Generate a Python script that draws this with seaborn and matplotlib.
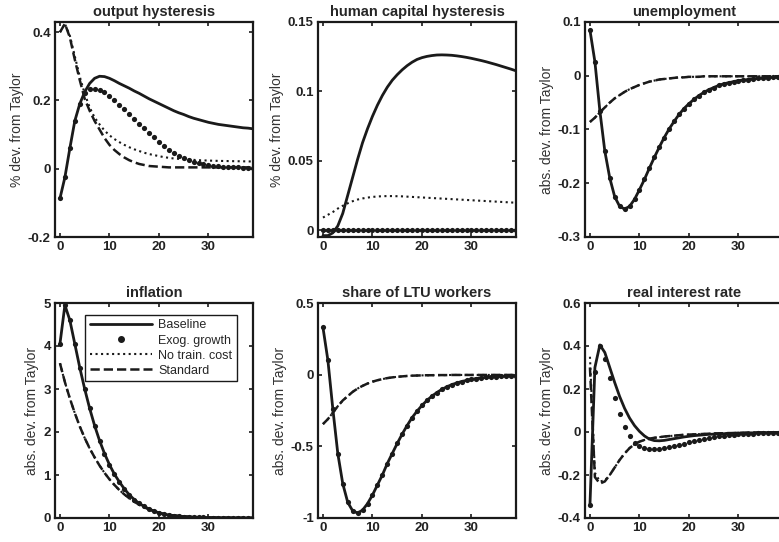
import numpy as np
import matplotlib
matplotlib.use("Agg")
import matplotlib.pyplot as plt
from matplotlib.lines import Line2D
from matplotlib.ticker import FuncFormatter
import seaborn as sns

# === data (periods 0..39) ===
t = np.arange(40)

# output hysteresis
base_out = [-0.087, -0.025, 0.06, 0.14, 0.19, 0.225, 0.25, 0.265, 0.271, 0.27,
            0.265, 0.258, 0.25, 0.243, 0.236, 0.228, 0.221, 0.213, 0.205, 0.198,
            0.191, 0.184, 0.177, 0.170, 0.164, 0.159, 0.153, 0.148, 0.144, 0.140,
            0.136, 0.133, 0.130, 0.128, 0.126, 0.124, 0.122, 0.120, 0.119, 0.117]
exog_out = [-0.087, -0.025, 0.06, 0.14, 0.19, 0.222, 0.233, 0.235, 0.232, 0.224,
            0.213, 0.2, 0.188, 0.174, 0.16, 0.145, 0.13, 0.118, 0.105, 0.092,
            0.079, 0.067, 0.056, 0.046, 0.038, 0.031, 0.025, 0.02, 0.016, 0.013,
            0.01, 0.008, 0.007, 0.006, 0.005, 0.004, 0.004, 0.003, 0.003, 0.003]
nt_out = [0.40, 0.425, 0.39, 0.33, 0.27, 0.22, 0.18, 0.15, 0.13, 0.112,
          0.098, 0.087, 0.078, 0.07, 0.063, 0.057, 0.052, 0.047, 0.043, 0.04,
          0.037, 0.034, 0.032, 0.030, 0.029, 0.028, 0.027, 0.026, 0.025, 0.0245,
          0.024, 0.0235, 0.023, 0.0228, 0.0225, 0.0222, 0.022, 0.0218, 0.0215, 0.0212]
st_out = [0.40, 0.425, 0.385, 0.32, 0.26, 0.205, 0.17, 0.14, 0.115, 0.09,
          0.07, 0.055, 0.043, 0.033, 0.025, 0.019, 0.014, 0.011, 0.008, 0.007,
          0.006, 0.005, 0.004, 0.004, 0.004, 0.004, 0.004, 0.004, 0.004, 0.004,
          0.004, 0.004, 0.004, 0.004, 0.004, 0.004, 0.004, 0.004, 0.004, 0.004]

# human capital hysteresis
base_hc = [-0.004, -0.004, -0.002, 0.003, 0.012, 0.025, 0.038, 0.051, 0.063, 0.073,
           0.082, 0.09, 0.097, 0.103, 0.108, 0.112, 0.1155, 0.1185, 0.121, 0.123,
           0.1243, 0.1252, 0.1258, 0.1262, 0.1263, 0.1262, 0.126, 0.1256, 0.1251, 0.1245,
           0.1238, 0.123, 0.1222, 0.1213, 0.1203, 0.1193, 0.1182, 0.1171, 0.116, 0.1148]
exog_hc = [0.0] * 40
nt_hc = [0.009, 0.011, 0.013, 0.0155, 0.0175, 0.0193, 0.0208, 0.022, 0.0228, 0.0234,
         0.0239, 0.0242, 0.0244, 0.0245, 0.0245, 0.0244, 0.0243, 0.0241, 0.0239, 0.0237,
         0.0235, 0.0233, 0.0231, 0.0229, 0.0227, 0.0225, 0.0223, 0.0221, 0.0219, 0.0217,
         0.0215, 0.0213, 0.0211, 0.0209, 0.0207, 0.0205, 0.0203, 0.0201, 0.0199, 0.0197]
st_hc = [0.0] * 40

# unemployment
base_un = [0.085, 0.026, -0.065, -0.14, -0.19, -0.225, -0.243, -0.248, -0.243, -0.23,
           -0.212, -0.193, -0.172, -0.152, -0.133, -0.115, -0.099, -0.085, -0.072, -0.061,
           -0.052, -0.044, -0.037, -0.031, -0.026, -0.022, -0.018, -0.015, -0.013, -0.011,
           -0.009, -0.008, -0.007, -0.006, -0.005, -0.004, -0.004, -0.003, -0.003, -0.003]
exog_un = base_un
nt_un = [-0.086, -0.078, -0.068, -0.059, -0.05, -0.042, -0.036, -0.030, -0.025, -0.021,
         -0.017, -0.014, -0.011, -0.009, -0.007, -0.006, -0.005, -0.004, -0.003, -0.003,
         -0.002, -0.002, -0.002, -0.001, -0.001, -0.001, -0.001, -0.001, -0.001, -0.001,
         -0.001, -0.001, -0.001, -0.001, -0.001, -0.001, -0.001, -0.001, -0.001, -0.001]
st_un = nt_un

# inflation
base_inf = [4.05, 4.95, 4.6, 4.05, 3.5, 3.0, 2.55, 2.15, 1.8, 1.5,
            1.24, 1.02, 0.84, 0.68, 0.54, 0.43, 0.34, 0.27, 0.21, 0.16,
            0.12, 0.09, 0.07, 0.055, 0.043, 0.034, 0.027, 0.021, 0.017, 0.014,
            0.011, 0.009, 0.008, 0.006, 0.005, 0.004, 0.004, 0.003, 0.003, 0.002]
exog_inf = base_inf
nt_inf = [3.6, 3.16, 2.78, 2.44, 2.13, 1.86, 1.62, 1.41, 1.22, 1.05,
          0.9, 0.77, 0.65, 0.55, 0.46, 0.38, 0.31, 0.25, 0.2, 0.16,
          0.12, 0.095, 0.075, 0.058, 0.045, 0.035, 0.027, 0.021, 0.016, 0.012,
          0.01, 0.008, 0.006, 0.005, 0.004, 0.003, 0.003, 0.002, 0.002, 0.002]
st_inf = nt_inf

# share of LTU workers
base_ltu = [0.33, 0.1, -0.24, -0.55, -0.76, -0.89, -0.95, -0.965, -0.945, -0.9,
            -0.84, -0.77, -0.7, -0.62, -0.55, -0.48, -0.415, -0.355, -0.3, -0.255,
            -0.215, -0.18, -0.15, -0.125, -0.103, -0.085, -0.07, -0.058, -0.048, -0.04,
            -0.033, -0.027, -0.022, -0.019, -0.016, -0.013, -0.011, -0.01, -0.009, -0.008]
exog_ltu = base_ltu
nt_ltu = [-0.345, -0.31, -0.265, -0.22, -0.18, -0.15, -0.12, -0.097, -0.078, -0.062,
          -0.049, -0.039, -0.031, -0.024, -0.019, -0.015, -0.012, -0.009, -0.007, -0.006,
          -0.005, -0.004, -0.004, -0.003, -0.003, -0.003, -0.002, -0.002, -0.002, -0.002,
          -0.002, -0.002, -0.002, -0.002, -0.002, -0.002, -0.002, -0.002, -0.002, -0.002]
st_ltu = nt_ltu

# real interest rate
base_rr = [-0.34, 0.3, 0.405, 0.37, 0.3, 0.23, 0.165, 0.11, 0.065, 0.03,
           0.003, -0.018, -0.033, -0.04, -0.041, -0.039, -0.035, -0.031, -0.027, -0.023,
           -0.02, -0.017, -0.015, -0.013, -0.011, -0.01, -0.009, -0.008, -0.007, -0.006,
           -0.005, -0.005, -0.004, -0.004, -0.003, -0.003, -0.003, -0.002, -0.002, -0.002]
exog_rr = [-0.34, 0.28, 0.4, 0.34, 0.25, 0.16, 0.085, 0.025, -0.02, -0.05,
           -0.066, -0.075, -0.079, -0.08, -0.078, -0.075, -0.071, -0.066, -0.06, -0.054,
           -0.048, -0.042, -0.037, -0.032, -0.027, -0.023, -0.02, -0.017, -0.014, -0.012,
           -0.01, -0.009, -0.008, -0.007, -0.006, -0.005, -0.004, -0.004, -0.003, -0.003]
nt_rr = [0.35, -0.19, -0.23, -0.225, -0.2, -0.165, -0.13, -0.1, -0.075, -0.057,
         -0.045, -0.037, -0.031, -0.027, -0.024, -0.021, -0.019, -0.017, -0.015, -0.013,
         -0.012, -0.011, -0.01, -0.009, -0.008, -0.007, -0.006, -0.006, -0.005, -0.005,
         -0.004, -0.004, -0.003, -0.003, -0.003, -0.002, -0.002, -0.002, -0.002, -0.001]
st_rr = [0.3, -0.21, -0.24, -0.23, -0.2, -0.165, -0.13, -0.1, -0.075, -0.057,
         -0.045, -0.037, -0.031, -0.027, -0.024, -0.021, -0.019, -0.017, -0.015, -0.013,
         -0.012, -0.011, -0.01, -0.009, -0.008, -0.007, -0.006, -0.006, -0.005, -0.005,
         -0.004, -0.004, -0.003, -0.003, -0.003, -0.002, -0.002, -0.002, -0.002, -0.001]

titles = ["output hysteresis", "human capital hysteresis", "unemployment",
          "inflation", "share of LTU workers", "real interest rate"]
ylabels = ["% dev. from Taylor", "% dev. from Taylor", "abs. dev. from Taylor",
           "abs. dev. from Taylor", "abs. dev. from Taylor", "abs. dev. from Taylor"]
ylims = [(-0.2, 0.43), (-0.005, 0.15), (-0.3, 0.1), (0, 5), (-1, 0.5), (-0.4, 0.6)]
yticks = [[-0.2, 0, 0.2, 0.4], [0, 0.05, 0.1, 0.15], [-0.3, -0.2, -0.1, 0, 0.1],
          [0, 1, 2, 3, 4, 5], [-1, -0.5, 0, 0.5], [-0.4, -0.2, 0, 0.2, 0.4, 0.6]]
series = [(base_out, exog_out, nt_out, st_out), (base_hc, exog_hc, nt_hc, st_hc),
          (base_un, exog_un, nt_un, st_un), (base_inf, exog_inf, nt_inf, st_inf),
          (base_ltu, exog_ltu, nt_ltu, st_ltu), (base_rr, exog_rr, nt_rr, st_rr)]
legend_labels = ["Baseline", "Exog. growth", "No train. cost", "Standard"]

# === style ===
sns.set_theme(style="white")
plt.rcParams['font.family'] = ['Liberation Sans', 'DejaVu Sans']
plt.rcParams['axes.unicode_minus'] = False

fig = plt.figure(figsize=(7.79, 5.42), dpi=100)
W, H = 779, 542
lefts = [55, 318, 585]
tops = [22, 303]
aw, ah = 198, 215

fmt = FuncFormatter(lambda v, p: f"{round(v, 6):g}")

for i in range(6):
    r, c = divmod(i, 3)
    ax = fig.add_axes([lefts[c] / W, 1 - (tops[r] + ah) / H, aw / W, ah / H])
    base, exog, nt, st = series[i]
    sns.lineplot(x=t, y=base, ax=ax, color='k', linewidth=2)
    sns.scatterplot(x=t, y=exog, ax=ax, color='k', s=14, linewidth=0)
    sns.lineplot(x=t, y=nt, ax=ax, color='k', linewidth=1.5, linestyle=':')
    sns.lineplot(x=t, y=st, ax=ax, color='k', linewidth=1.8, linestyle='--')

    ax.set_xlim(-1, 39)
    ax.set_ylim(*ylims[i])
    ax.set_xticks([0, 10, 20, 30])
    ax.set_yticks(yticks[i])
    ax.yaxis.set_major_formatter(fmt)
    ax.tick_params(direction='in', length=3, width=1.2, colors='k',
                   bottom=True, left=True, top=True, right=True,
                   labelsize=9.5, pad=3)
    for lab in ax.get_xticklabels() + ax.get_yticklabels():
        lab.set_fontweight('bold')
        lab.set_color('#222222')
    for sp in ax.spines.values():
        sp.set_color('k')
        sp.set_linewidth(1.6)
    ax.set_title(titles[i], fontsize=10.5, fontweight='bold', pad=4)
    ax.set_ylabel(ylabels[i], fontsize=10, color='#333333', labelpad=3)
    ax.set_xlabel('')

    if i == 3:
        handles = [Line2D([], [], color='k', linewidth=2),
                   Line2D([], [], color='k', marker='.', linestyle='none', markersize=8),
                   Line2D([], [], color='k', linewidth=1.5, linestyle=':'),
                   Line2D([], [], color='k', linewidth=1.8, linestyle='--')]
        leg = ax.legend(handles, legend_labels, loc='upper right',
                        bbox_to_anchor=(0.919, 0.944), fontsize=9, handlelength=5,
                        frameon=True, fancybox=False, edgecolor='k', framealpha=1,
                        borderpad=0.35, labelspacing=0.25, handletextpad=0.5,
                        borderaxespad=0)
        leg.get_frame().set_linewidth(1.0)

fig.savefig('out.png', dpi=100)
plt.close(fig)
